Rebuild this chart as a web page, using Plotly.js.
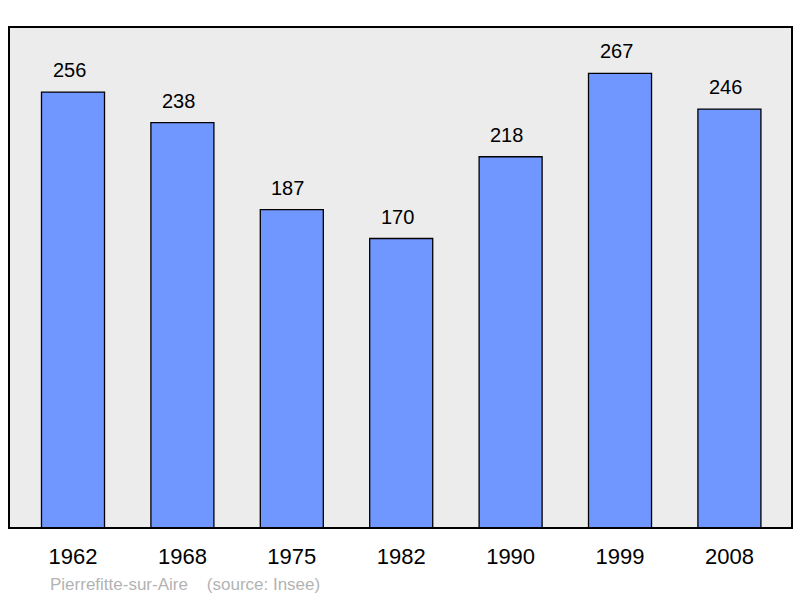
<!DOCTYPE html>
<html>
<head>
<meta charset="utf-8">
<script src="https://cdn.plot.ly/plotly-3.0.1.min.js"></script>
<style>html,body{margin:0;padding:0;background:#fff;}#chart{width:800px;height:598px;}</style>
</head>
<body>
<div id="chart"></div>
<script>
const years = ["1962", "1968", "1975", "1982", "1990", "1999", "2008"];
const population = [256, 238, 187, 170, 218, 267, 246];
const placeName = "Pierrefitte-sur-Aire";
const sourceText = "(source: Insee)";

const font = "Liberation Sans, Arial, sans-serif";

const trace = {
  type: "bar",
  x: years,
  y: population,
  width: 0.576,
  marker: {color: "#7096ff", line: {color: "#000000", width: 1.3}},
  hoverinfo: "none"
};

const annotations = years.map((yr, i) => ({
  x: i, y: population[i], xref: "x", yref: "y",
  text: String(population[i]), showarrow: false,
  yanchor: "middle", yshift: 22, xshift: -4,
  font: {family: font, size: 20, color: "#000"}
}));
annotations.push({
  xref: "paper", yref: "paper", x: 0.0498, y: 0, xanchor: "left", yanchor: "middle",
  yshift: -56, text: placeName + "&nbsp;&nbsp;&nbsp;&nbsp;" + sourceText,
  showarrow: false, font: {family: font, size: 17, color: "#b3b3b3"}
});

const layout = {
  width: 800, height: 598,
  margin: {l: 9, r: 8, t: 27, b: 70, pad: 0},
  paper_bgcolor: "#ffffff",
  plot_bgcolor: "#ececec",
  showlegend: false,
  bargap: 0,
  xaxis: {
    type: "category",
    range: [-0.585, 6.572],
    showgrid: false, zeroline: false, showline: false,
    ticks: "", ticklabelstandoff: 13,
    tickfont: {family: font, size: 22, color: "#000"}
  },
  yaxis: {
    range: [0, 294.2],
    showgrid: false, zeroline: false, showline: false,
    showticklabels: false, ticks: ""
  },
  shapes: [{
    type: "rect", xref: "paper", yref: "paper",
    x0: 0, x1: 1, y0: 0, y1: 1,
    line: {color: "#000", width: 2}, fillcolor: "rgba(0,0,0,0)", layer: "above"
  }],
  annotations: annotations
};

Plotly.newPlot("chart", [trace], layout, {displayModeBar: false, staticPlot: true});
</script>
</body>
</html>
